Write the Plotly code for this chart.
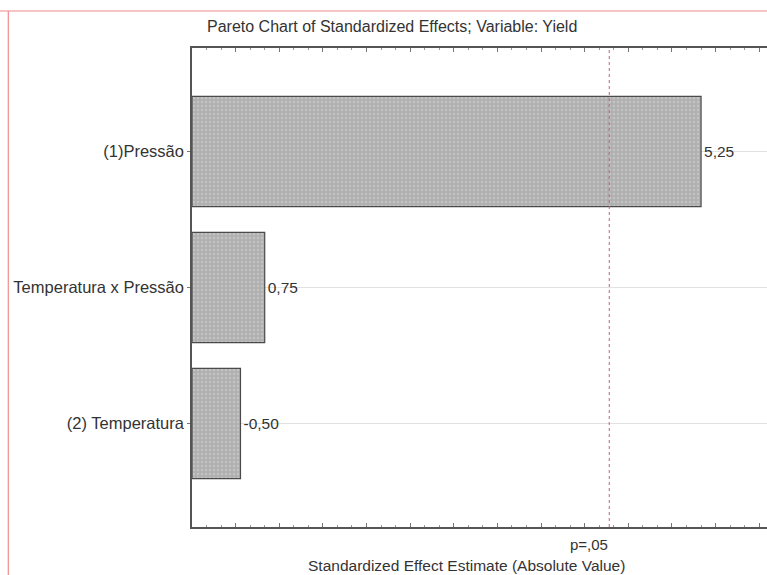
import plotly.graph_objects as go

# Pareto chart of standardized effects (response: Yield)
factors = ["(2) Temperatura", "Temperatura x Pressão", "(1)Pressão"]
effects = [-0.50, 0.75, 5.25]
effect_labels = ["-0,50", "0,75", "5,25"]
t_critical = 4.303  # two-sided t, alpha = 0.05, df = 2
critical_label = "p=,05"
title_text = "Pareto Chart of Standardized Effects; Variable: Yield"
xaxis_text = "Standardized Effect Estimate (Absolute Value)"

bar_len = [abs(v) for v in effects]

FONT = "Liberation Sans, Arial, sans-serif"
TXT = "#333333"
FRAME = "#f08a8a"

fig = go.Figure()
fig.add_trace(go.Bar(
    y=factors,
    x=bar_len,
    orientation="h",
    width=0.81,
    marker=dict(
        color="#b0b0b0",
        line=dict(color="#4a4a4a", width=1.2),
        pattern=dict(shape=".", fgcolor="#d6d6d6", size=4, solidity=0.3),
    ),
    text=effect_labels,
    textposition="outside",
    textfont=dict(family=FONT, size=15.5, color=TXT),
    cliponaxis=False,
    showlegend=False,
))

# critical effect line
fig.add_shape(type="line", xref="x", yref="paper",
              x0=t_critical, x1=t_critical, y0=0, y1=1,
              line=dict(color="#c7607a", width=1, dash="dot"))
fig.add_annotation(x=t_critical, xref="x", y=-0.036, yref="paper",
                   text=critical_label, showarrow=False,
                   xanchor="right", xshift=1, yanchor="middle",
                   font=dict(family=FONT, size=15, color=TXT))

# page frame lines
fig.add_shape(type="line", xref="paper", yref="paper",
              x0=-1, x1=2, y0=1.0772, y1=1.0772,
              line=dict(color=FRAME, width=1.2))
fig.add_shape(type="line", xref="paper", yref="paper",
              x0=-0.3195, x1=-0.3195, y0=-0.2, y1=1.0772,
              line=dict(color=FRAME, width=1.2))

fig.add_annotation(x=0.348, xref="paper", y=1.044, yref="paper",
                   text=title_text, showarrow=False, yanchor="middle",
                   font=dict(family=FONT, size=16, color=TXT))
fig.add_annotation(x=0.478, xref="paper", y=-0.08, yref="paper",
                   text=xaxis_text, showarrow=False, yanchor="middle",
                   font=dict(family=FONT, size=15.5, color=TXT))

fig.update_layout(
    width=767, height=575,
    margin=dict(l=192, r=0, t=48, b=48),
    paper_bgcolor="white", plot_bgcolor="white",
    font=dict(family=FONT, size=16, color=TXT),
    xaxis=dict(
        range=[0, 5.93], showgrid=False, zeroline=False,
        showline=True, linecolor="#555555", linewidth=1.5, mirror="ticks",
        ticks="inside", ticklen=4, tickcolor="#777777", tick0=0, dtick=0.45,
        showticklabels=False,
        minor=dict(ticks="inside", ticklen=2, tickcolor="#999999", dtick=0.15),
    ),
    yaxis=dict(
        range=[-0.76, 2.76], showgrid=True, gridcolor="#e2e2e2", gridwidth=1,
        showline=True, linecolor="#555555", linewidth=1.5,
        ticks="outside", ticklen=3, tickcolor="#777777",
        tickfont=dict(family=FONT, size=16.5, color=TXT),
    ),
)

fig.write_html("out.html")
